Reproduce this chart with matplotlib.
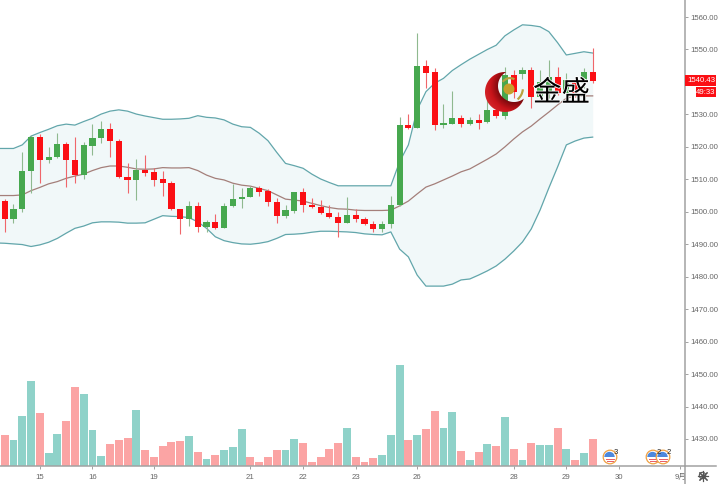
import matplotlib
matplotlib.use("Agg")
import matplotlib.pyplot as plt
import matplotlib.patheffects as pe
from matplotlib.colors import LinearSegmentedColormap
from matplotlib.patches import Circle, Polygon, Rectangle, Wedge
import numpy as np

# OHLC
opens = [1503.3, 1497.7, 1500.8, 1512.5, 1523.1, 1515.9, 1516.9, 1520.9, 1515.9, 1511.2,
         1520.4, 1522.7, 1525.4, 1521.9, 1510.8, 1509.8, 1513.0, 1512.2, 1510.1, 1509.0,
         1501.0, 1497.7, 1501.9, 1495.3, 1496.9, 1494.9, 1501.8, 1503.8, 1504.4, 1507.4,
         1506.3, 1503.0, 1498.8, 1500.2, 1506.0, 1502.2, 1501.5, 1499.5, 1498.4, 1496.5,
         1499.0, 1497.8, 1496.2, 1494.8, 1496.2, 1502.1, 1526.8, 1525.9, 1544.8, 1543.0,
         1526.7, 1527.1, 1528.9, 1526.9, 1528.4, 1527.6, 1531.4, 1529.5, 1542.1, 1542.4,
         1543.7, 1535.3, 1536.7, 1541.4, 1536.5, 1540.6, 1539.6, 1543.0]
highs = [1503.8, 1502.4, 1518.3, 1523.7, 1523.9, 1520.1, 1524.2, 1521.6, 1522.9, 1521.6,
         1527.0, 1528.0, 1527.2, 1522.3, 1514.9, 1516.2, 1517.5, 1513.4, 1512.7, 1509.5,
         1501.0, 1503.4, 1503.1, 1497.5, 1499.3, 1502.6, 1508.5, 1507.4, 1507.9, 1508.0,
         1507.0, 1504.1, 1502.1, 1506.1, 1507.4, 1504.3, 1503.5, 1502.1, 1500.0, 1504.7,
         1500.8, 1498.3, 1497.2, 1497.2, 1505.0, 1529.3, 1530.1, 1555.2, 1546.8, 1544.2,
         1533.2, 1537.2, 1529.9, 1529.1, 1530.1, 1534.6, 1532.4, 1544.7, 1543.7, 1544.7,
         1544.7, 1543.7, 1546.8, 1544.7, 1542.9, 1540.8, 1544.2, 1550.4]
lows = [1493.9, 1496.6, 1499.8, 1505.9, 1509.0, 1514.9, 1516.5, 1507.7, 1508.8, 1510.0,
        1517.5, 1521.1, 1516.8, 1510.3, 1505.7, 1503.6, 1511.0, 1507.9, 1504.9, 1500.5,
        1493.2, 1495.6, 1493.7, 1493.9, 1494.6, 1494.9, 1501.6, 1501.3, 1504.4, 1505.0,
        1501.8, 1496.4, 1498.2, 1499.5, 1500.0, 1501.3, 1499.4, 1498.0, 1492.3, 1496.4,
        1497.0, 1496.0, 1493.9, 1493.9, 1494.9, 1501.9, 1525.5, 1525.9, 1538.2, 1525.2,
        1525.7, 1527.0, 1526.0, 1526.7, 1525.6, 1527.4, 1528.8, 1528.5, 1535.0, 1540.8,
        1531.9, 1534.4, 1534.9, 1536.0, 1536.0, 1535.5, 1538.0, 1539.6]
closes = [1497.7, 1500.8, 1512.6, 1523.1, 1515.9, 1517.0, 1520.9, 1515.9, 1511.4, 1520.5,
          1522.8, 1525.4, 1521.7, 1510.6, 1509.7, 1513.0, 1512.0, 1509.8, 1509.0, 1501.0,
          1497.7, 1501.9, 1495.4, 1496.9, 1494.9, 1501.9, 1503.9, 1504.5, 1507.4, 1506.1,
          1502.9, 1498.8, 1500.4, 1506.0, 1502.2, 1501.4, 1499.5, 1498.3, 1496.5, 1498.9,
          1497.7, 1496.2, 1494.8, 1496.2, 1502.2, 1526.8, 1525.7, 1544.9, 1542.9, 1526.7,
          1527.2, 1529.0, 1526.9, 1528.4, 1527.5, 1531.4, 1529.5, 1542.1, 1537.0, 1543.7,
          1535.3, 1540.1, 1541.4, 1536.7, 1540.6, 1536.3, 1543.0, 1540.3]

# one value per bar, the first belongs to the bar left of the visible range
band_upper = [1519.5, 1519.5, 1519.5, 1520.6, 1523.3, 1524.4, 1525.4, 1526.5, 1527.0, 1526.7, 1527.8,
              1528.8, 1530.1, 1531.0, 1531.4, 1531.0, 1530.1, 1529.5, 1529.0, 1528.5, 1528.5,
              1528.6, 1528.8, 1529.6, 1529.1, 1528.9, 1528.3, 1527.0, 1526.2, 1526.0, 1524.2,
              1521.9, 1518.3, 1514.9, 1514.2, 1513.4, 1511.6, 1510.1, 1509.0, 1508.0, 1508.0,
              1508.0, 1508.0, 1508.0, 1508.0, 1508.0, 1515.4, 1520.6, 1531.4, 1537.0, 1539.6,
              1541.1, 1543.5, 1545.3, 1547.0, 1548.5, 1550.0, 1551.3, 1554.2, 1556.0, 1557.6,
              1557.4, 1557.0, 1555.5, 1552.1, 1548.3, 1548.8, 1549.3, 1548.9]
band_mid = [1505.0, 1505.0, 1505.0, 1505.2, 1506.5, 1507.5, 1508.6, 1509.3, 1510.3, 1511.0, 1511.6,
            1512.7, 1513.6, 1514.1, 1514.1, 1513.7, 1513.2, 1513.1, 1513.2, 1513.6, 1513.5,
            1513.5, 1513.6, 1512.7, 1511.3, 1510.3, 1509.8, 1508.8, 1508.2, 1507.9, 1507.2,
            1506.5, 1505.2, 1503.9, 1503.6, 1503.3, 1502.6, 1501.9, 1501.3, 1500.9, 1500.8,
            1500.5, 1500.4, 1500.4, 1500.4, 1500.5, 1501.8, 1503.3, 1505.5, 1507.6, 1508.6,
            1509.8, 1511.0, 1512.3, 1513.2, 1514.7, 1516.2, 1517.8, 1520.0, 1522.4, 1524.6,
            1526.4, 1528.6, 1530.7, 1532.9, 1535.0, 1535.7, 1535.7, 1535.7]
band_lower = [1490.4, 1490.3, 1490.1, 1489.9, 1489.3, 1489.8, 1490.6, 1491.8, 1493.4, 1494.9, 1495.6,
              1496.6, 1496.9, 1496.9, 1496.8, 1496.5, 1496.5, 1496.6, 1497.7, 1498.8, 1498.6,
              1498.5, 1498.2, 1496.9, 1494.9, 1492.3, 1491.1, 1490.5, 1490.1, 1490.0, 1490.3,
              1490.8, 1491.8, 1493.0, 1493.1, 1493.3, 1493.7, 1494.0, 1494.0, 1493.9, 1493.8,
              1493.6, 1493.2, 1493.0, 1492.9, 1493.8, 1488.5, 1486.1, 1480.5, 1477.1, 1477.1,
              1477.1, 1477.7, 1479.0, 1479.3, 1480.5, 1481.8, 1483.3, 1485.4, 1487.9, 1490.7,
              1494.7, 1500.5, 1507.3, 1513.8, 1520.6, 1521.8, 1522.7, 1523.0]

volumes = [31, 26, 50, 85, 53, 13, 32, 45, 79, 72, 36, 10, 22, 26, 28, 56, 16, 9, 20, 24,
           25, 30, 14, 7, 11, 16, 19, 37, 9, 4, 9, 16, 16, 27, 23, 4, 9, 17, 23, 38,
           9, 4, 8, 11, 31, 101, 26, 31, 37, 55, 38, 54, 15, 6, 14, 22, 20, 49, 17, 6,
           23, 21, 21, 38, 17, 6, 13, 27]
vol_up = [0, 1, 1, 1, 0, 1, 1, 0, 0, 1, 1, 1, 0, 0, 0, 1, 0, 0, 0, 0,
          0, 1, 0, 1, 0, 1, 1, 1, 0, 0, 0, 0, 1, 1, 0, 0, 0, 0, 0, 1,
          0, 0, 0, 1, 1, 1, 0, 1, 0, 0, 1, 1, 0, 1, 0, 1, 0, 1, 0, 1,
          0, 1, 1, 0, 1, 0, 1, 0]

date_pos = [4, 10, 17, 28, 34, 40, 47, 58, 64, 70, 77]
date_labels = ["15", "16", "19", "21", "22", "23", "26", "28", "29", "30", "9月"]
# 1540.00 sits under the red price tag
price_ticks = [p for p in range(1430, 1570, 10) if p != 1540]
last_price = "1540.43"
countdown = "49:33"

RED = "#fb0f14"
GREEN = "#47a84f"
AXIS = "#a2a2a2"
fig = plt.figure(figsize=(7.24, 4.84), dpi=100)
ax = fig.add_axes([0, 18 / 484, 685 / 724, 466 / 484])
vol = ax.twinx()
ax.set_zorder(vol.get_zorder() + 1)
ax.patch.set_visible(False)

x = np.arange(len(opens))
band_x = np.arange(-1, len(opens))
o = np.array(opens)
c = np.array(closes)
up = c >= o

ax.fill_between(band_x, band_lower, band_upper, color="#f1f8f9", lw=0, zorder=1)
ax.plot(band_x, band_upper, color="#62a6ab", lw=0.9, zorder=2)
ax.plot(band_x, band_lower, color="#62a6ab", lw=0.9, zorder=2)
ax.plot(band_x, band_mid, color="#a47f7a", lw=0.9, zorder=2)

ax.vlines(x[up], np.array(lows)[up], np.array(highs)[up], color="#8fb98f", lw=0.8, zorder=3)
ax.vlines(x[~up], np.array(lows)[~up], np.array(highs)[~up], color="#f0666a", lw=0.8, zorder=3)
ax.bar(x[up], (c - o)[up], bottom=o[up], width=0.7, color=GREEN, zorder=4)
ax.bar(x[~up], (o - c)[~up], bottom=c[~up], width=0.7, color=RED, zorder=4)

vol_colors = ["#8fd2c9" if u else "#fba4a4" for u in vol_up]
vol.bar(x, volumes, width=0.9, color=vol_colors)
vol.set_ylim(0, 466)
vol.axis("off")

ax.set_xlim(-0.535, 77.52)
ax.set_ylim(1421.68, 1565.24)
ax.yaxis.tick_right()
ax.set_yticks(price_ticks)
ax.set_yticklabels([f"{p:.2f}" for p in price_ticks])
ax.set_xticks(date_pos)
ax.set_xticklabels(date_labels)
ax.tick_params(axis="y", length=2, width=0.7, color=AXIS, labelsize=5.6,
               labelcolor="#666666", pad=1.5)
ax.tick_params(axis="x", length=2.5, width=0.7, color=AXIS, labelsize=5.6,
               labelcolor="#666666", pad=3.5)
for lab in ax.get_xticklabels() + ax.get_yticklabels():
    lab.set_family(["Liberation Sans", "Noto Sans CJK SC"])
for s in ["top", "left"]:
    ax.spines[s].set_visible(False)
for s in ["right", "bottom"]:
    ax.spines[s].set_color(AXIS)
    ax.spines[s].set_linewidth(1.1)

# overlay in pixels for the logo, the price tags and the icons
over = fig.add_axes([0, 0, 1, 1], zorder=10)
over.axis("off")
over.plot([685, 716], [466, 466], color=AXIS, lw=1.1)
over.plot([685, 685], [466, 484], color=AXIS, lw=1.1)

over.add_patch(Rectangle((685, 75), 31, 11, color=RED, lw=0))
over.add_patch(Rectangle((696, 87), 20, 10, color=RED, lw=0))
over.text(715, 80.7, last_price, color="white", fontsize=5.6, ha="right", va="center",
          family="Liberation Sans")
over.text(715, 92.2, countdown, color="white", fontsize=5.6, ha="right", va="center",
          family="Liberation Sans")

# crescent, shaded from the inner edge outwards
t = np.linspace(0, 2 * np.pi, 400)
cx, cy, r = 505, 92, 20
ix, iy, ir = 514, 86, 16
ox_pts = np.c_[cx + r * np.cos(t), cy + r * np.sin(t)]
ox_pts = ox_pts[np.hypot(ox_pts[:, 0] - ix, ox_pts[:, 1] - iy) > ir]
ang = np.arctan2(ox_pts[:, 1] - cy, ox_pts[:, 0] - cx)
ox_pts = ox_pts[np.argsort(np.mod(ang - 0.2, 2 * np.pi))]
in_pts = np.c_[ix + ir * np.cos(t), iy + ir * np.sin(t)]
in_pts = in_pts[np.hypot(in_pts[:, 0] - cx, in_pts[:, 1] - cy) < r]
ang2 = np.arctan2(in_pts[:, 1] - iy, in_pts[:, 0] - ix)
in_pts = in_pts[np.argsort(-np.mod(ang2 - 0.2, 2 * np.pi))]
crescent = Polygon(np.r_[ox_pts, in_pts], closed=True, facecolor="none", lw=0)
over.add_patch(crescent)
gy, gx = np.mgrid[70:114, 483:527]
shade = np.hypot(gx - ix, gy - iy)
cmap = LinearSegmentedColormap.from_list("logo", ["#7d0a0e", "#c8141a", "#d6282c"])
im = over.imshow(shade, extent=(483, 527, 114, 70), cmap=cmap, vmin=16, vmax=32,
                 interpolation="bilinear", aspect="auto")
im.set_clip_path(crescent)
over.add_patch(Circle((509, 89), 5.5, color="#c6a02c", lw=0))
over.add_patch(Wedge((510, 87), 10, 215, 300, width=2.2, color="#b9a240", lw=0))
over.add_patch(Wedge((508, 88), 16, 5, 50, width=2.2, color="#b9a240", lw=0))
over.text(561.5, 93, "金盛", fontsize=20.5, color="black", ha="center", va="center",
          family="Noto Sans CJK SC",
          path_effects=[pe.withStroke(linewidth=1.2, foreground="white")])

# calendar icons
for px, label in [(610, "3"), (653, "2"), (663, "2")]:
    over.add_patch(Circle((px, 457), 6.8, facecolor="white", edgecolor="#f0a040", lw=0.9))
    over.add_patch(Wedge((px - 0.5, 457), 5.2, 180, 360, color="#4d88dd", lw=0))
    over.add_patch(Rectangle((px - 4.5, 459), 9, 1.2, color="#e8606a", lw=0))
    over.add_patch(Rectangle((px - 3.5, 461), 7, 1.0, color="#e8606a", lw=0))
    over.text(px + 5.5, 452.5, label, fontsize=5.5, color="#222222", ha="center", va="center",
              family="Liberation Sans")

# settings gear
over.plot([702.5], [475.5], marker=(8, 2, 0), ms=8, mew=0.8, color="#555555")
over.add_patch(Circle((702.5, 475.5), 3.2, facecolor="white", edgecolor="#555555", lw=0.8))

over.set_xlim(0, 724)
over.set_ylim(484, 0)
fig.savefig("out.png", dpi=100)
